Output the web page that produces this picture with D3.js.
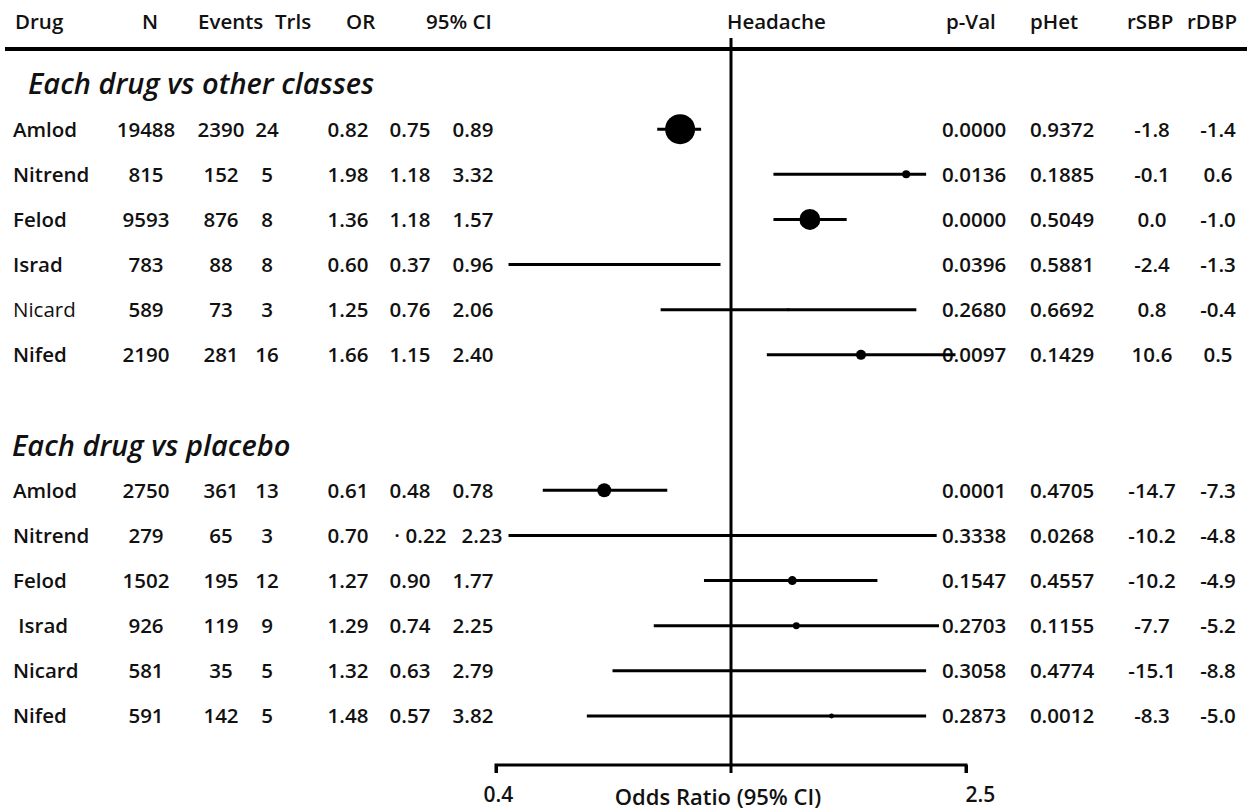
<!DOCTYPE html>
<html>
<head>
<meta charset="utf-8">
<script src="https://cdn.jsdelivr.net/npm/d3@7"></script>
<style>
  html, body { margin: 0; padding: 0; background: #fff; }
  svg { display: block; }
  text { font-family: "Open Sans", Lato, sans-serif; fill: #111; white-space: pre; }
</style>
</head>
<body>
<svg id="chart" width="1255" height="810"></svg>
<script>
// Headache odds ratios for dihydropyridine calcium-channel blockers
const sections = ["Each drug vs other classes", "Each drug vs placebo"];

const drugsOther   = ["Amlod", "Nitrend", "Felod", "Israd", "Nicard", "Nifed"];
const nOther       = [19488, 815, 9593, 783, 589, 2190];
const eventsOther  = [2390, 152, 876, 88, 73, 281];
const trialsOther  = [24, 5, 8, 8, 3, 16];
const orOther      = [0.82, 1.98, 1.36, 0.60, 1.25, 1.66];
const loOther      = [0.75, 1.18, 1.18, 0.37, 0.76, 1.15];
const hiOther      = [0.89, 3.32, 1.57, 0.96, 2.06, 2.40];
const pValOther    = ["0.0000", "0.0136", "0.0000", "0.0396", "0.2680", "0.0097"];
const pHetOther    = ["0.9372", "0.1885", "0.5049", "0.5881", "0.6692", "0.1429"];
const rSbpOther    = ["-1.8", "-0.1", "0.0", "-2.4", "0.8", "10.6"];
const rDbpOther    = ["-1.4", "0.6", "-1.0", "-1.3", "-0.4", "0.5"];
const weightOther  = [225, 16, 110, 2, 2, 25];

const drugsPlacebo  = ["Amlod", "Nitrend", "Felod", " Israd", "Nicard", "Nifed"];
const nPlacebo      = [2750, 279, 1502, 926, 581, 591];
const eventsPlacebo = [361, 65, 195, 119, 35, 142];
const trialsPlacebo = [13, 3, 12, 9, 5, 5];
const orPlacebo     = [0.61, 0.70, 1.27, 1.29, 1.32, 1.48];
const loPlacebo     = [0.48, 0.22, 0.90, 0.74, 0.63, 0.57];
const hiPlacebo     = [0.78, 2.23, 1.77, 2.25, 2.79, 3.82];
const pValPlacebo   = ["0.0001", "0.3338", "0.1547", "0.2703", "0.3058", "0.2873"];
const pHetPlacebo   = ["0.4705", "0.0268", "0.4557", "0.1155", "0.4774", "0.0012"];
const rSbpPlacebo   = ["-14.7", "-10.2", "-10.2", "-7.7", "-15.1", "-8.3"];
const rDbpPlacebo   = ["-7.3", "-4.8", "-4.9", "-5.2", "-8.8", "-5.0"];
const weightPlacebo = [49, 1, 20, 12, 0.3, 6];

const axisTicks = [0.4, 2.5];
const axisTickLabels = ["0.4", "2.5"];
const axisTitle = "Odds Ratio (95% CI)";
const plotTitle = "Headache";

// CI whiskers running past the axis range are cut short at these odds ratios
const ciCut = [0.42, 2.14];

function buildRows(drugs, n, ev, tr, or, lo, hi, pv, ph, rs, rd, w) {
  return drugs.map((d, i) => ({
    type: "data", drug: d, n: n[i], events: ev[i], trials: tr[i],
    or: or[i], lo: lo[i], hi: hi[i], pVal: pv[i], pHet: ph[i],
    rSbp: rs[i], rDbp: rd[i], weight: w[i]
  }));
}

const rows = [
  { type: "title", text: sections[0] },
  ...buildRows(drugsOther, nOther, eventsOther, trialsOther, orOther, loOther, hiOther,
               pValOther, pHetOther, rSbpOther, rDbpOther, weightOther),
  { type: "blank" },
  { type: "title", text: sections[1] },
  ...buildRows(drugsPlacebo, nPlacebo, eventsPlacebo, trialsPlacebo, orPlacebo, loPlacebo, hiPlacebo,
               pValPlacebo, pHetPlacebo, rSbpPlacebo, rDbpPlacebo, weightPlacebo)
];
rows.forEach((r, i) => r.idx = i);
// Nicard row (vs other classes) is set in a lighter face
rows[5].light = true;
// Nitrend row (vs placebo) carries a dot marker before its CI
rows[10].ciMark = true;

const svg = d3.select("#chart");

const x = d3.scaleLog().domain([0.4, 2.5]).range([496, 966]);
const y = d3.scalePoint().domain(d3.range(rows.length)).range([84, 716]);
const r = d3.scaleSqrt().domain([0, 225]).range([0, 15]);

const headerY = 22;
const headerLineY = 49;
const axisY = 765;
const fontSize = 20.5;
const headSize = 20.5;

// table columns; header labels are placed by their left edge
const columns = [
  { key: "drug",   head: "Drug",   hx: 15,   x: 13,   anchor: "start",  value: d => d.drug },
  { key: "n",      head: "N",      hx: 142,  x: 146,  anchor: "middle", value: d => d.n },
  { key: "events", head: "Events", hx: 198,  x: 221,  anchor: "middle", value: d => d.events },
  { key: "trials", head: "Trls",   hx: 275,  x: 267,  anchor: "middle", value: d => d.trials },
  { key: "or",     head: "OR",     hx: 346,  x: 348,  anchor: "middle", value: d => d.or.toFixed(2) },
  { key: "lo",     head: "95% CI", hx: 426,  x: 410,  anchor: "middle", value: d => d.lo.toFixed(2) },
  { key: "hi",     head: null,               x: 473,  anchor: "middle", value: d => d.hi.toFixed(2) },
  { key: "pVal",   head: "p-Val",  hx: 946,  x: 974,  anchor: "middle", value: d => d.pVal },
  { key: "pHet",   head: "pHet",   hx: 1030, x: 1062, anchor: "middle", value: d => d.pHet },
  { key: "rSbp",   head: "rSBP",   hx: 1127, x: 1152, anchor: "middle", value: d => d.rSbp },
  { key: "rDbp",   head: "rDBP",   hx: 1187, x: 1218, anchor: "middle", value: d => d.rDbp }
];

// header row
const head = svg.append("g").attr("class", "header");
columns.filter(c => c.head).forEach(c => {
  head.append("text")
    .attr("x", c.hx)
    .attr("y", headerY)
    .attr("dy", "0.36em")
    .attr("font-size", headSize)
    .attr("font-weight", 600)
    .text(c.head);
});
head.append("text")
  .attr("x", 727).attr("y", headerY).attr("dy", "0.36em")
  .attr("font-size", headSize).attr("font-weight", 600)
  .text(plotTitle);

svg.append("line")
  .attr("x1", 5).attr("x2", 1247)
  .attr("y1", headerLineY).attr("y2", headerLineY)
  .attr("stroke", "#000").attr("stroke-width", 4);

// section titles
svg.append("g").selectAll("text")
  .data(rows.filter(d => d.type === "title"))
  .join("text")
  .attr("x", (d, i) => i === 0 ? 28 : 12)
  .attr("y", d => y(d.idx))
  .attr("dy", "0.36em")
  .attr("font-size", 29)
  .attr("font-style", "italic")
  .attr("font-weight", 600)
  .text(d => d.text);

const dataRows = rows.filter(d => d.type === "data");

// CI values on a marked row sit a little further right
const ciShift = (c, d) => (d.ciMark && (c.key === "lo" || c.key === "hi")) ? (c.key === "lo" ? 16 : 9) : 0;

// table cells
const table = svg.append("g").attr("class", "table");
columns.forEach(c => {
  table.append("g").selectAll("text")
    .data(dataRows)
    .join("text")
    .attr("x", d => c.x + ciShift(c, d))
    .attr("y", d => y(d.idx))
    .attr("dy", "0.36em")
    .attr("text-anchor", c.anchor)
    .attr("font-size", fontSize)
    .attr("font-weight", d => (d.light && c.key === "drug") ? 400 : 600)
    .attr("fill", d => (d.light && c.key === "drug") ? "#333" : "#111")
    .text(c.value);
});

table.append("g").selectAll("text")
  .data(dataRows.filter(d => d.ciMark))
  .join("text")
  .attr("x", 397)
  .attr("y", d => y(d.idx))
  .attr("dy", "0.36em")
  .attr("text-anchor", "middle")
  .attr("font-size", fontSize)
  .attr("font-weight", 600)
  .text("·");

// reference line at OR = 1
svg.append("line")
  .attr("x1", x(1)).attr("x2", x(1))
  .attr("y1", 38).attr("y2", axisY + 8)
  .attr("stroke", "#000").attr("stroke-width", 3);

// confidence intervals and point estimates
const plot = svg.append("g").attr("class", "forest");
const clipLo = v => v < x.domain()[0] ? ciCut[0] : v;
const clipHi = v => v > x.domain()[1] ? ciCut[1] : v;

plot.selectAll("line.ci")
  .data(dataRows)
  .join("line")
  .attr("class", "ci")
  .attr("x1", d => x(clipLo(d.lo)))
  .attr("x2", d => x(clipHi(d.hi)))
  .attr("y1", d => y(d.idx))
  .attr("y2", d => y(d.idx))
  .attr("stroke", "#000")
  .attr("stroke-width", 3);

plot.selectAll("circle")
  .data(dataRows)
  .join("circle")
  .attr("cx", d => x(d.or))
  .attr("cy", d => y(d.idx))
  .attr("r", d => r(d.weight))
  .attr("fill", "#000");

// odds-ratio axis
const axis = svg.append("g")
  .attr("transform", `translate(0,${axisY})`)
  .call(d3.axisBottom(x)
    .tickValues(axisTicks)
    .tickFormat((d, i) => axisTickLabels[i])
    .tickSize(8)
    .tickPadding(14));
axis.select(".domain")
  .attr("d", `M${x(axisTicks[0])},8V0H${x(axisTicks[1])}V8`)
  .attr("stroke-width", 3);
axis.selectAll(".tick line").attr("stroke-width", 3);
axis.selectAll(".tick text")
  .attr("dx", (d, i) => i === 0 ? 2 : 14)
  .attr("font-size", 21)
  .attr("font-weight", 600)
  .attr("fill", "#111")
  .style("font-family", "'Open Sans', sans-serif");

svg.append("text")
  .attr("x", 718).attr("y", axisY + 32)
  .attr("dy", "0.36em")
  .attr("text-anchor", "middle")
  .attr("font-size", 22)
  .attr("font-weight", 600)
  .text(axisTitle);
</script>
</body>
</html>
